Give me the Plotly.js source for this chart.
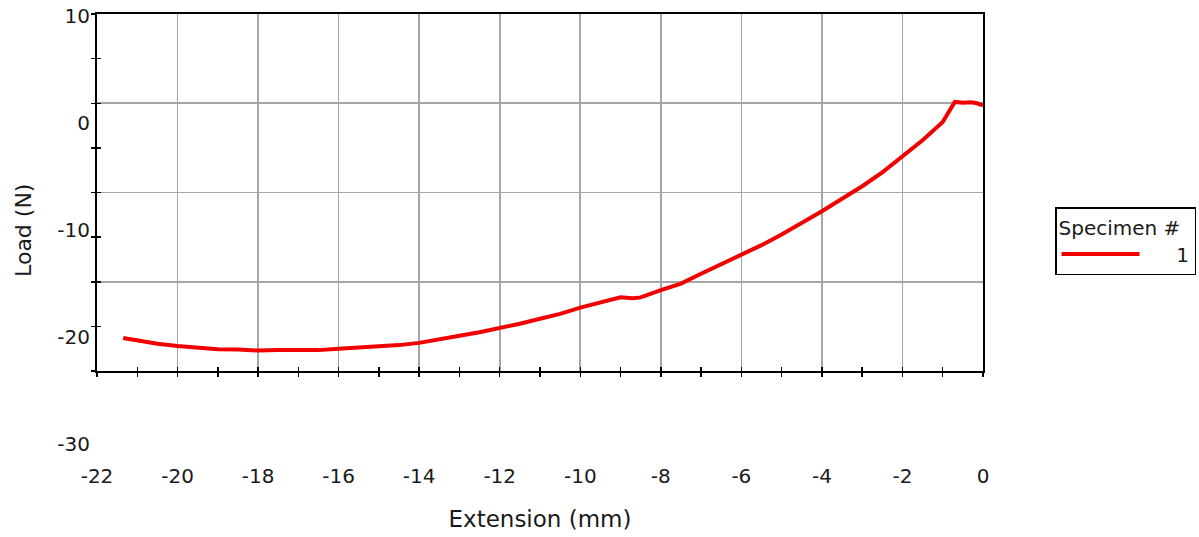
<!DOCTYPE html>
<html>
<head>
<meta charset="utf-8">
<script src="https://cdn.plot.ly/plotly-3.0.1.min.js"></script>
<style>html,body{margin:0;padding:0;background:#fff}#chart{width:1199px;height:537px}</style>
</head>
<body>
<div id="chart"></div>
<script>
// Extension (mm)
var extension = [-21.35, -21.0, -20.5, -20.0, -19.5, -19.0, -18.5, -18.0, -17.5, -17.0, -16.5, -16.0, -15.5, -15.0, -14.5, -14.0, -13.5, -13.0, -12.5, -12.0, -11.5, -11.0, -10.5, -10.0, -9.6, -9.3, -9.0, -8.7, -8.5, -8.0, -7.5, -7.0, -6.5, -6.0, -5.5, -5.0, -4.5, -4.0, -3.5, -3.0, -2.5, -2.0, -1.5, -1.0, -0.8, -0.7, -0.5, -0.3, -0.15, 0.0];
// Load (N)
var load = [-26.3, -26.6, -26.95, -27.2, -27.4, -27.55, -27.6, -27.7, -27.65, -27.62, -27.66, -27.5, -27.4, -27.25, -27.1, -26.85, -26.5, -26.05, -25.65, -25.2, -24.7, -24.15, -23.6, -22.9, -22.45, -22.05, -21.75, -21.85, -21.75, -20.95, -20.2, -19.1, -18.05, -16.95, -15.9, -14.7, -13.45, -12.1, -10.7, -9.3, -7.75, -6.0, -4.15, -2.1, -0.5, 0.15, 0.05, 0.1, 0.0, -0.25];
var xTickVals = [-22, -20, -18, -16, -14, -12, -10, -8, -6, -4, -2, 0];
var yTickVals = [10, 0, -10, -20, -30];
var seriesName = '1';
var legendTitle = 'Specimen #';

var FONT = 'DejaVu Sans, Verdana, sans-serif';
var TXT = '#1a1a1a';

var trace = {
  x: extension, y: load, type: 'scatter', mode: 'lines',
  name: '\u00a0'.repeat(5) + seriesName,
  line: {color: '#f20000', width: 4},
  xaxis: 'x', yaxis: 'y'
};
// invisible helpers so that the extra axes (inner tick halves, displaced y labels) get drawn
var helperTicks = {
  x: [extension[0]], y: [load[0]], type: 'scatter', mode: 'markers',
  marker: {opacity: 0}, showlegend: false, hoverinfo: 'skip',
  xaxis: 'x2', yaxis: 'y2'
};
var helperLabels = {
  x: [extension[0]], y: [load[0]], type: 'scatter', mode: 'markers',
  marker: {opacity: 0}, showlegend: false, hoverinfo: 'skip',
  xaxis: 'x4', yaxis: 'y3'
};

var tickStyle = {ticklen: 4, tickwidth: 1.5, tickcolor: '#000'};

var layout = {
  width: 1199, height: 537,
  margin: {l: 97, r: 216, t: 14, b: 87, autoexpand: false},
  paper_bgcolor: '#fff', plot_bgcolor: 'rgba(0,0,0,0)',
  font: {family: FONT, color: TXT, size: 20},
  showlegend: true,
  legend: {
    x: 1.0813, xanchor: 'left', y: 0.5573, yanchor: 'top',
    bordercolor: '#000', borderwidth: 1.5, bgcolor: '#fff',
    title: {text: legendTitle, font: {family: FONT, size: 20, color: TXT}},
    font: {family: FONT, size: 20, color: TXT},
    itemwidth: 78
  },
  xaxis: Object.assign({
    domain: [0, 1], range: [-22, 0], anchor: 'y',
    tickvals: xTickVals, ticktext: xTickVals.map(String),
    ticks: 'outside',
    minor: Object.assign({dtick: 1, tick0: 0, ticks: 'outside', showgrid: false}, tickStyle),
    showgrid: true, gridcolor: '#a6a6a6', gridwidth: 1.6,
    showline: true, linecolor: '#000', linewidth: 2, mirror: true,
    zeroline: false,
    showticklabels: true, ticklabelstandoff: 82,
    tickfont: {family: FONT, size: 20, color: TXT},
    title: {text: 'Extension (mm)', font: {family: FONT, size: 23, color: TXT}, standoff: 24}
  }, tickStyle),
  xaxis2: Object.assign({
    overlaying: 'x', anchor: 'y2', range: [-22, 0],
    tickvals: xTickVals, ticks: 'inside',
    minor: Object.assign({dtick: 1, tick0: 0, ticks: 'inside', showgrid: false}, tickStyle),
    showgrid: false, showline: false, zeroline: false, showticklabels: false
  }, tickStyle),
  xaxis4: {
    domain: [0, 1], range: [-22, 0], anchor: 'y3',
    ticks: '', showgrid: false, showline: false, zeroline: false, showticklabels: false
  },
  yaxis: Object.assign({
    domain: [0.18119, 1], range: [-30, 10], anchor: 'x',
    dtick: 10, tick0: 0,
    ticks: 'outside',
    minor: Object.assign({dtick: 5, tick0: 0, ticks: 'outside', showgrid: false}, tickStyle),
    showgrid: true, gridcolor: '#a6a6a6', gridwidth: 1.6,
    showline: true, linecolor: '#000', linewidth: 2, mirror: true,
    zeroline: false, showticklabels: false
  }, tickStyle),
  yaxis2: Object.assign({
    overlaying: 'y', anchor: 'x2', range: [-30, 10],
    dtick: 10, tick0: 0, ticks: 'inside',
    minor: Object.assign({dtick: 5, tick0: 0, ticks: 'inside', showgrid: false}, tickStyle),
    showgrid: false, showline: false, zeroline: false, showticklabels: false
  }, tickStyle),
  yaxis3: {
    domain: [0.01376, 0.99427], range: [-30, 10], anchor: 'free', position: 0,
    tickvals: yTickVals, ticktext: yTickVals.map(String),
    ticks: '', showgrid: false, showline: false, zeroline: false,
    showticklabels: true, ticklabelstandoff: 7,
    tickfont: {family: FONT, size: 20, color: TXT},
    title: {text: 'Load (N)', font: {family: FONT, size: 22, color: TXT}, standoff: 18}
  }
};

Plotly.newPlot('chart', [trace, helperTicks, helperLabels], layout, {staticPlot: true, displayModeBar: false});
</script>
</body>
</html>
